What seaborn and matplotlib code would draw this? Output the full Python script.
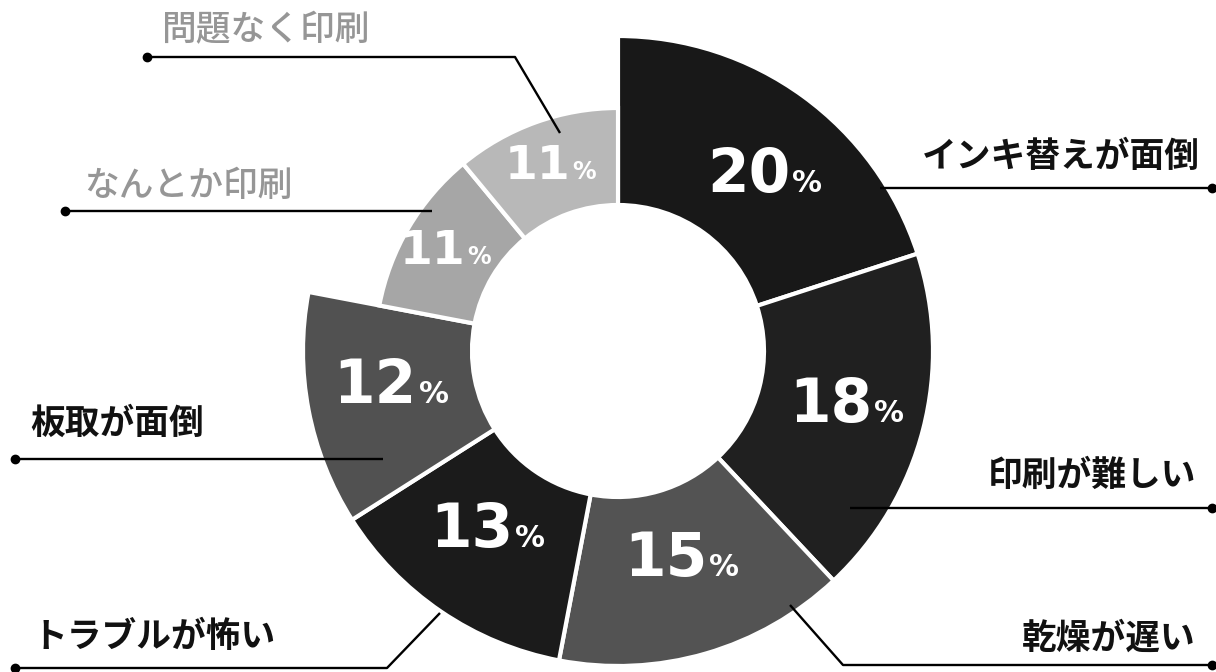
import numpy as np
import matplotlib.pyplot as plt
import seaborn as sns

# --- dados ---
labels = ['インキ替えが面倒', '印刷が難しい', '乾燥が遅い', 'トラブルが怖い',
          '板取が面倒', 'なんとか印刷', '問題なく印刷']
shares = [20, 18, 15, 13, 12, 11, 11]

# --- estilo ---
colors = ['#181818', '#202020', '#535353', '#1b1b1b', '#515151', '#a6a6a6', '#b8b8b8']
outer_r = [315, 315, 315, 315, 315, 243, 243]
label_colors = ['#111111'] * 5 + ['#969696'] * 2
# pequenos ajustes (px) da posicao das porcentagens
nudge = [(12, 14), (6, 0), (0, -10), (0, -8), (0, -5), (-3, 3), (0, 2)]

W, H = 1216, 672
cx, cy = 618, H - 351
r_in = 146


def px(x, y):
    # coordenadas de pixel (y para baixo) -> eixo
    return x, H - y


# posicao do texto (x, y centro, alinhamento) e pontos da linha guia
label_pos = [(1200, 157, 'right'), (1196, 475, 'right'), (1196, 638, 'right'),
             (32, 636, 'left'), (30, 423, 'left'), (84, 186, 'left'), (162, 30, 'left')]
leaders = [
    [(880, 188), (1212, 188)],
    [(850, 508), (1212, 508)],
    [(790, 605), (843, 665), (1212, 665)],
    [(15, 668), (387, 668), (440, 613)],
    [(15, 459), (383, 459)],
    [(65, 211), (432, 211)],
    [(147, 57), (515, 57), (560, 133)],
]
dot_end = [-1, -1, -1, 0, 0, 0, 0]

sns.set_theme(style='white')
plt.rcParams['font.family'] = ['Noto Sans CJK JP', 'DejaVu Sans']

fig = plt.figure(figsize=(W / 100, H / 100), dpi=100)
ax = fig.add_axes([0, 0, 1, 1])

wedges, _ = ax.pie(shares, colors=colors, startangle=90, counterclock=False,
                   center=(cx, cy), radius=315,
                   wedgeprops=dict(width=315 - r_in, edgecolor='white', linewidth=3))
for w, r in zip(wedges, outer_r):
    w.set_radius(r)
    w.set_width(r - r_in)

ax.set_xlim(0, W)
ax.set_ylim(0, H)
ax.set_aspect('equal')
ax.axis('off')

# porcentagens dentro das fatias
for w, val, r, (nx, ny) in zip(wedges, shares, outer_r, nudge):
    mid = np.deg2rad((w.theta1 + w.theta2) / 2)
    rm = (r + r_in) / 2
    x = cx + rm * np.cos(mid) + nx
    y = cy + rm * np.sin(mid) + 8 - ny
    big = r > 300
    fs = 43 if big else 34
    shift = 25 if big else 18
    base = y - fs * 0.5
    ax.text(x + shift, base, str(val), ha='right', va='baseline', color='white',
            fontsize=fs, fontweight='bold', family='DejaVu Sans', zorder=5)
    ax.text(x + shift + 2, base, '%', ha='left', va='baseline', color='white',
            fontsize=fs * 0.5, fontweight='bold', family='DejaVu Sans', zorder=5)

# linhas guia e rotulos
for lab, (tx, ty, ha), pts, col, de in zip(labels, label_pos, leaders, label_colors, dot_end):
    xs = [px(*p)[0] for p in pts]
    ys = [px(*p)[1] for p in pts]
    ax.plot(xs, ys, color='black', lw=1.7, zorder=6, solid_capstyle='butt')
    ax.plot(xs[de], ys[de], 'o', color='black', ms=6, zorder=7)
    ax.text(*px(tx, ty), lab, ha=ha, va='center', color=col, fontsize=25,
            fontweight='bold' if col == '#111111' else 'medium', zorder=6)

fig.savefig('out.png', dpi=100, facecolor='white')
